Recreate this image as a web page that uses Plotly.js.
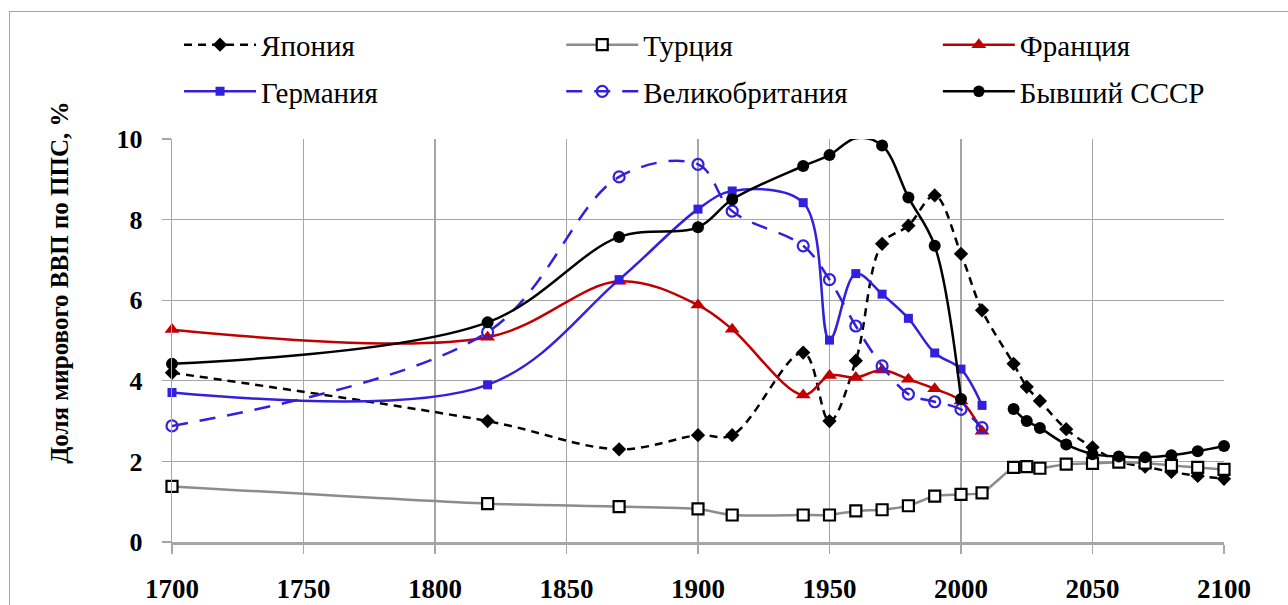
<!DOCTYPE html>
<html>
<head>
<meta charset="utf-8">
<script src="https://cdn.plot.ly/plotly-3.0.1.min.js"></script>
<style>
  html, body { margin: 0; padding: 0; background: #fff; overflow: hidden; }
  #chart { width: 1288px; height: 605px; }
  #frame { position: absolute; left: 9px; top: 11px; width: 1400px; height: 700px;
           border: 1.5px solid #a6a6a6; pointer-events: none; }
</style>
</head>
<body>
<div id="chart"></div>
<div id="frame"></div>
<script>
// ---- data ----
const years = [1700, 1820, 1870, 1900, 1913, 1940, 1950, 1960, 1970, 1980, 1990, 2000, 2008,
               2020, 2025, 2030, 2040, 2050, 2060, 2070, 2080, 2090, 2100];
const yearsHist = [1700, 1820, 1870, 1900, 1913, 1940, 1950, 1960, 1970, 1980, 1990, 2000, 2008];

const japan   = [4.2, 3.0, 2.3, 2.65, 2.65, 4.7, 3.0, 4.5, 7.4, 7.85, 8.6, 7.15, 5.75,
                 4.42, 3.85, 3.5, 2.8, 2.35, 2.0, 1.87, 1.74, 1.64, 1.57];
const turkey  = [1.38, 0.95, 0.88, 0.82, 0.67, 0.67, 0.67, 0.77, 0.8, 0.9, 1.14, 1.18, 1.22,
                 1.85, 1.87, 1.83, 1.93, 1.95, 1.98, 1.96, 1.9, 1.85, 1.8];
const ussr    = [4.42, 5.45, 7.57, 7.81, 8.5, 9.33, 9.6, 10.02, 9.84, 8.55, 7.35, 3.55, null,
                 3.3, 3.0, 2.83, 2.42, 2.18, 2.12, 2.1, 2.15, 2.25, 2.38];
const france  = [5.27, 5.08, 6.47, 5.88, 5.28, 3.65, 4.13, 4.08, 4.27, 4.04, 3.8, 3.5, 2.75];
const germany = [3.71, 3.9, 6.51, 8.26, 8.71, 8.42, 5.01, 6.66, 6.15, 5.55, 4.69, 4.29, 3.39];
const uk      = [2.88, 5.21, 9.06, 9.37, 8.21, 7.35, 6.51, 5.36, 4.37, 3.67, 3.48, 3.29, 2.84];

const names = ['Япония', 'Турция', 'Франция', 'Германия', 'Великобритания', 'Бывший СССР'];
const yTitle = 'Доля мирового ВВП по ППС, %';
const yTickVals = [0, 2, 4, 6, 8, 10];
const xTickVals = [1700, 1750, 1800, 1850, 1900, 1950, 2000, 2050, 2100];

const YMAX = 10;
const BLUE = '#3320dd';
const RED = '#c00000';
const SERIF = 'Liberation Serif';

const traces = [
  { x: years, y: japan, name: names[0], legend: 'legend', legendgroup: 'a',
    mode: 'lines+markers', line: { color: '#000', width: 2.5, dash: '8px,6px', shape: 'spline', smoothing: 1 },
    marker: { symbol: 'diamond', size: 11, color: '#000' } },
  { x: years, y: turkey, name: names[1], legend: 'legend2', legendgroup: 'b',
    mode: 'lines+markers', line: { color: '#8c8c8c', width: 2.5, shape: 'spline', smoothing: 0.6 },
    marker: { symbol: 'square', size: 11, color: '#fff', line: { color: '#000', width: 2.2 } } },
  { x: yearsHist, y: france, name: names[2], legend: 'legend3', legendgroup: 'c',
    mode: 'lines+markers', line: { color: RED, width: 2.5, shape: 'spline', smoothing: 1 },
    marker: { symbol: 'triangle-up', size: 13, color: RED } },
  { x: yearsHist, y: germany, name: names[3], legend: 'legend', legendgroup: 'd',
    mode: 'lines+markers', line: { color: BLUE, width: 2.5, shape: 'spline', smoothing: 1 },
    marker: { symbol: 'square', size: 9, color: BLUE } },
  { x: yearsHist, y: uk, name: names[4], legend: 'legend2', legendgroup: 'e',
    mode: 'lines+markers', line: { color: BLUE, width: 2.5, dash: '16px,12px', shape: 'spline', smoothing: 1 },
    marker: { symbol: 'circle-open', size: 11, color: BLUE, line: { width: 2.2 } } },
  { x: years, y: ussr, name: names[5], legend: 'legend3', legendgroup: 'f', connectgaps: false,
    mode: 'lines+markers', line: { color: '#000', width: 2.5, shape: 'spline', smoothing: 1 },
    marker: { symbol: 'circle', opacity: 1, color: '#000', line: { width: 0 },
              size: ussr.map(v => (v !== null && v > YMAX) ? 0 : 12) } }
];
traces.forEach(t => { t.cliponaxis = false; });

const legendBase = {
  orientation: 'v', yanchor: 'top', xanchor: 'left', y: 1.297,
  bgcolor: 'rgba(0,0,0,0)', borderwidth: 0,
  font: { family: SERIF, size: 29, color: '#000' },
  tracegroupgap: 6, itemwidth: 72, traceorder: 'grouped'
};

const layout = {
  width: 1288, height: 605,
  margin: { l: 172, r: 64, t: 139, b: 63 },
  paper_bgcolor: '#fff', plot_bgcolor: '#fff',
  font: { family: SERIF },
  showlegend: true,
  legend:  Object.assign({}, legendBase, { x: 0.0067 }),
  legend2: Object.assign({}, legendBase, { x: 0.370 }),
  legend3: Object.assign({}, legendBase, { x: 0.728 }),
  xaxis: {
    range: [1700, 2100], tickmode: 'array', tickvals: xTickVals,
    showgrid: true, gridcolor: '#a6a6a6', gridwidth: 1.3,
    showline: true, linecolor: '#a6a6a6', linewidth: 2.5,
    ticks: 'outside', ticklen: 9, tickcolor: '#a6a6a6', tickwidth: 1.3,
    ticklabelstandoff: 12, zeroline: false,
    tickfont: { family: SERIF, size: 27, color: '#000', weight: 'bold' }
  },
  yaxis: {
    range: [0, YMAX], tickmode: 'array', tickvals: yTickVals,
    showgrid: true, gridcolor: '#a6a6a6', gridwidth: 1.3,
    showline: true, linecolor: '#a6a6a6', linewidth: 1.3,
    ticks: 'outside', ticklen: 9, tickcolor: '#a6a6a6', tickwidth: 1.3,
    ticklabelstandoff: 14, zeroline: false,
    tickfont: { family: SERIF, size: 26, color: '#000', weight: 'bold' }
  },
  annotations: [{
    text: yTitle, xref: 'paper', yref: 'paper', x: -0.1065, y: 0.643,
    xanchor: 'center', yanchor: 'middle', textangle: -90, showarrow: false,
    font: { family: SERIF, size: 25, color: '#000', weight: 'bold' }
  }]
};

Plotly.newPlot('chart', traces, layout, { displayModeBar: false, staticPlot: true });
</script>
</body>
</html>
